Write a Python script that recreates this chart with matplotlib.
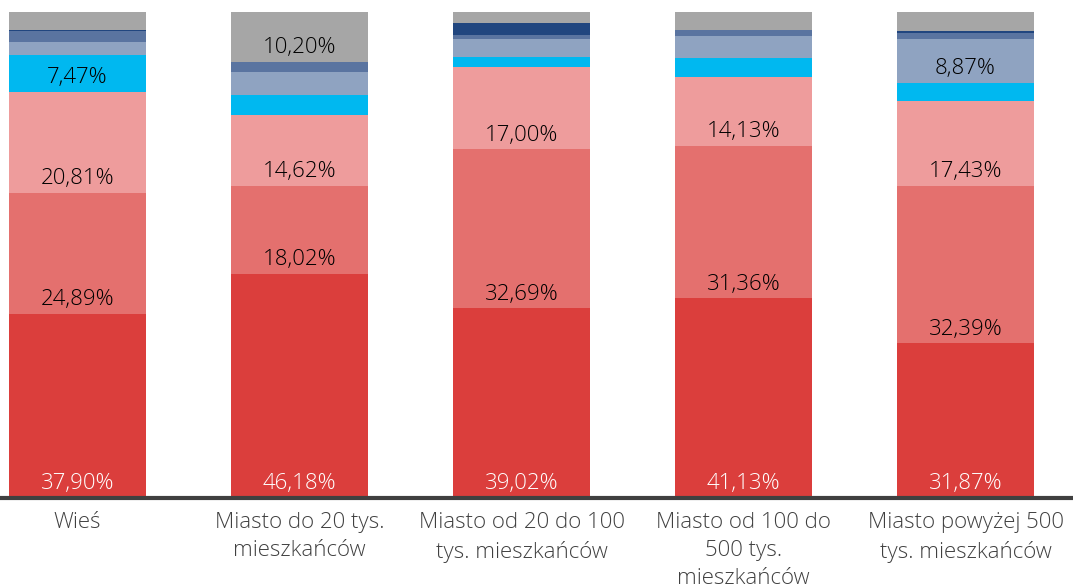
import numpy as np
import matplotlib.pyplot as plt

# Categories (place of residence)
categories = ["Wieś", "Miasto do 20 tys.\nmieszkańców", "Miasto od 20 do 100\ntys. mieszkańców",
              "Miasto od 100 do\n500 tys.\nmieszkańców", "Miasto powyżej 500\ntys. mieszkańców"]

# Series values in percent, from the bottom of the stack to the top
s1 = [37.90, 46.18, 39.02, 41.13, 31.87]
s2 = [24.89, 18.02, 32.69, 31.36, 32.39]
s3 = [20.81, 14.62, 17.00, 14.13, 17.43]
s4 = [7.47, 4.20, 2.06, 4.00, 3.80]
s5 = [2.85, 4.65, 3.64, 4.45, 8.87]
s6 = [2.10, 2.13, 0.82, 1.13, 1.37]
s7 = [0.30, 0.00, 2.53, 0.00, 0.27]
s8 = [3.68, 10.20, 2.24, 3.80, 4.00]

series = [s1, s2, s3, s4, s5, s6, s7, s8]
colors = ["#db3e3c", "#e4706e", "#ee9c9c", "#00b8f0", "#8fa3c1", "#5a74a0", "#21467f", "#a6a6a6"]
text_colors = ["white", "black", "black", "black", "black", "black", "white", "black"]

plt.rcParams['font.family'] = ['Open Sans', 'DejaVu Sans']

fig = plt.figure(figsize=(10.73, 5.87), dpi=100)
ax = fig.add_axes([0, 89 / 587, 1, 486 / 587])

x = np.arange(len(categories))
bottom = np.zeros(len(categories))
for vals, col, tcol in zip(series, colors, text_colors):
    vals = np.array(vals)
    ax.bar(x, vals, 0.617, bottom=bottom, color=col, linewidth=0)
    # Labels sit near the base of each segment, only for bigger segments
    for xi, v, b in zip(x, vals, bottom):
        if v >= 5:
            ax.text(xi, b + 1.75, "{:.2f}%".format(v).replace(".", ","),
                    ha='center', va='baseline', fontsize=16, color=tcol, fontweight='light')
    bottom += vals

ax.set_xlim(-0.349, 4.484)
ax.set_ylim(0, 100)
ax.set_xticks(x)
ax.set_xticklabels(categories, fontsize=16, color="#404040", linespacing=1.45, fontweight='light')
ax.tick_params(axis='x', length=0, pad=10)
ax.set_yticks([])

for side in ['top', 'right', 'left']:
    ax.spines[side].set_visible(False)
ax.spines['bottom'].set_color("#404040")
ax.spines['bottom'].set_linewidth(3)

fig.savefig("out.png", dpi=100)
